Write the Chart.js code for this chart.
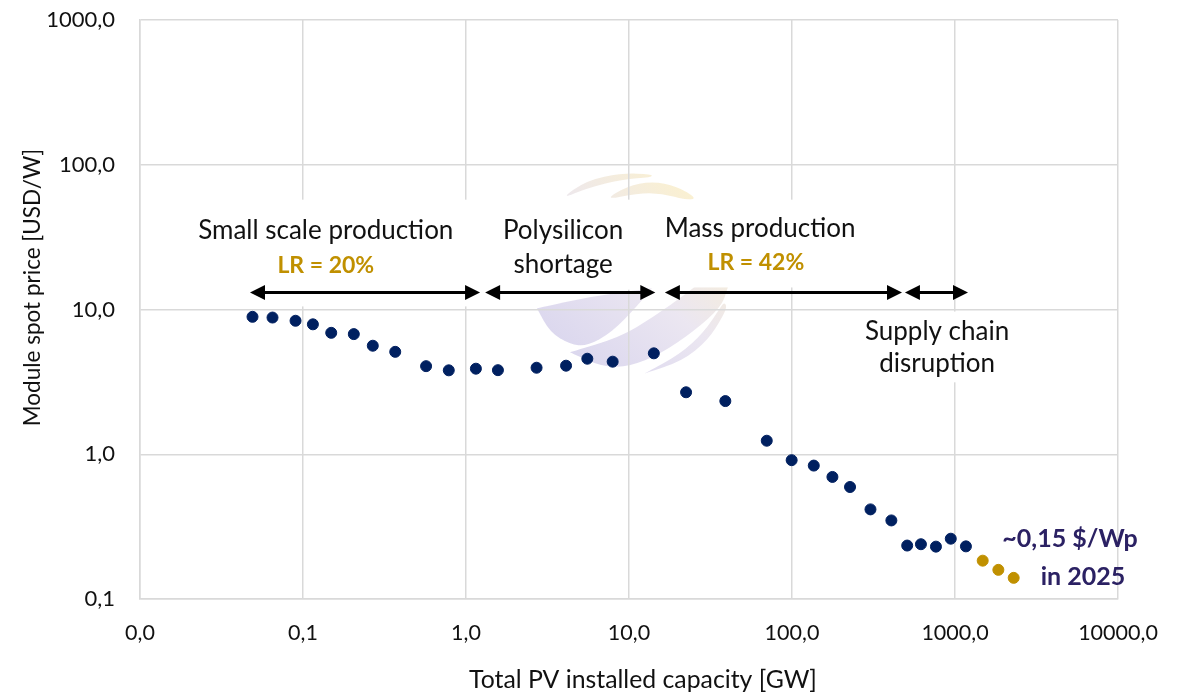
<!DOCTYPE html>
<html><head><meta charset="utf-8">
<script src="https://cdn.jsdelivr.net/npm/chart.js@4/dist/chart.umd.min.js"></script>
<style>html,body{margin:0;padding:0;background:#fff}</style>
</head><body>
<canvas id="c" width="1188" height="698"></canvas>
<script>
// ---- data ----
const capacityGW = [0.049,0.065,0.090,0.115,0.149,0.205,0.268,0.368,0.569,0.784,1.15,1.57,2.71,4.11,5.55,7.94,14.2,22.4,39.0,70.0,99.5,136,177,227,303,407,509,618,764,942,1167];
const priceUSD   = [8.9,8.8,8.36,7.9,6.9,6.76,5.62,5.1,4.06,3.8,3.9,3.81,3.96,4.09,4.57,4.36,4.98,2.68,2.33,1.24,0.91,0.835,0.697,0.594,0.416,0.349,0.234,0.239,0.23,0.261,0.231];
const forecastCapacity = [1479,1845,2291];
const forecastPrice    = [0.184,0.159,0.140];
const xTicks = [0.01,0.1,1,10,100,1000,10000];
const yTicks = [0.1,1,10,100,1000];
const xTitle = 'Total PV installed capacity [GW]';
const yTitle = 'Module spot price [USD/W]';
// phase arrows [from, to] in GW, drawn at price level arrowLevel
const phaseArrows = [[0.0473,1.22],[1.31,14.5],[16.6,473],[493,1202]];
const arrowLevel = 13.1;
// annotation texts, anchored in data coordinates (GW, USD/W)
const noteTexts  = ['Small scale production','LR = 20%','Polysilicon','shortage','Mass production','LR = 42%','Supply chain','disruption','~0,15 $/Wp','in 2025'];
const noteX      = [0.138,0.138,3.94,3.94,63.7,60,776,776,5080,6100];
const noteY      = [35.1,20.1,35.1,20.4,36.2,21.1,7.05,4.25,0.259,0.142];
const noteKind   = ['n','g','n','n','n','g','n','n','b','b'];
// white text boxes [x1, x2, yTop, yBottom] in data coordinates
const noteBoxes  = [[0.0203,1.135,57.4,10.5],[1.22,12.5,57.4,13.7],[10.9,493,57.4,14.2],[244,2506,9.68,3.14]];

const FONT = 'Lato, "Open Sans", sans-serif';
const fmt = v => (v < 0.1 ? 0 : v).toFixed(1).replace('.', ',');

// faint background logo (decoration), local shape outlines around its centre
const logoShapes = [
  [[-95,34],[-95,34],[-40,22],[20,14],[20,14],[5,32],[-20,58],[-45,72],[-62,70],[-82,58]],
  [[-62,78],[-62,78],[-12,63],[21,43],[55,19],[85,-5],[100,-5],[96,14],[89,33],[62,57],[28,80],[-2,92],[-29,93]],
  [[13,99],[13,99],[48,80],[72,58],[88,34],[92,28],[95,32],[91,42],[76,66],[50,87]],
  [[-72,-75],[-45,-94],[-10,-101],[20,-100],[20,-97],[-10,-95],[-45,-86]],
  [[-28,-74],[-5,-88],[20,-93],[45,-88],[65,-76],[55,-74],[30,-81],[5,-81]]
];
const watermark = {
  id: 'watermark',
  beforeDraw(chart) {
    const {ctx, chartArea: a} = chart;
    const s = (a.bottom - a.top) / 579;
    const cx = a.left + (a.right - a.left) * 0.503, cy = a.top + (a.bottom - a.top) * 0.439;
    const P = p => [cx + p[0] * s, cy + p[1] * s];
    ctx.save();
    ctx.globalAlpha = 0.6;
    const g = ctx.createLinearGradient(...P([-80, 90]), ...P([80, -90]));
    g.addColorStop(0, 'rgb(190,184,226)'); g.addColorStop(0.5, 'rgb(222,214,232)'); g.addColorStop(1, 'rgb(252,234,168)');
    ctx.fillStyle = g;
    logoShapes.forEach(pts => {
      const n = pts.length, q = pts.map(P);
      const mid = (u, v) => [(u[0] + v[0]) / 2, (u[1] + v[1]) / 2];
      ctx.beginPath();
      const m0 = mid(q[n - 1], q[0]); ctx.moveTo(m0[0], m0[1]);
      for (let i = 0; i < n; i++) { const m = mid(q[i], q[(i + 1) % n]); ctx.quadraticCurveTo(q[i][0], q[i][1], m[0], m[1]); }
      ctx.closePath(); ctx.fill();
    });
    ctx.restore();
  }
};

const overlay = {
  id: 'overlay',
  beforeDatasetsDraw(chart) {
    const {ctx, scales:{x, y}} = chart;
    ctx.save();
    ctx.fillStyle = '#fff';
    noteBoxes.forEach(([x1, x2, t, b]) => {
      const px1 = x.getPixelForValue(x1), px2 = x.getPixelForValue(x2);
      const py1 = y.getPixelForValue(t), py2 = y.getPixelForValue(b);
      ctx.fillRect(px1, py1, px2 - px1, py2 - py1);
    });
    // arrows
    const ay = y.getPixelForValue(arrowLevel);
    ctx.strokeStyle = '#000'; ctx.fillStyle = '#000'; ctx.lineWidth = 3;
    phaseArrows.forEach(([a, b]) => {
      const x1 = x.getPixelForValue(a), x2 = x.getPixelForValue(b);
      const h = 15, w = 7.5;
      ctx.beginPath(); ctx.moveTo(x1 + h - 2, ay); ctx.lineTo(x2 - h + 2, ay); ctx.stroke();
      ctx.beginPath(); ctx.moveTo(x1, ay); ctx.lineTo(x1 + h, ay - w); ctx.lineTo(x1 + h, ay + w); ctx.closePath(); ctx.fill();
      ctx.beginPath(); ctx.moveTo(x2, ay); ctx.lineTo(x2 - h, ay - w); ctx.lineTo(x2 - h, ay + w); ctx.closePath(); ctx.fill();
    });
    // texts
    ctx.textAlign = 'center'; ctx.textBaseline = 'middle';
    noteTexts.forEach((t, i) => {
      const k = noteKind[i];
      if (k === 'n') { ctx.font = '26px ' + FONT; ctx.fillStyle = '#111'; }
      else if (k === 'g') { ctx.font = 'bold 23px ' + FONT; ctx.fillStyle = '#C09000'; }
      else { ctx.font = 'bold 25px ' + FONT; ctx.fillStyle = '#2B2163'; }
      ctx.fillText(t, x.getPixelForValue(noteX[i]), y.getPixelForValue(noteY[i]));
    });
    ctx.restore();
  },
  afterDraw(chart) {
    // axis titles (placed as in the reference, slightly off the plot centre)
    const {ctx, chartArea: a} = chart;
    ctx.save();
    ctx.fillStyle = '#111'; ctx.textAlign = 'center'; ctx.textBaseline = 'middle';
    ctx.font = '24.8px ' + FONT;
    ctx.fillText(xTitle, (a.left + a.right) / 2 + 14, a.bottom + 81);
    ctx.translate(33, (a.top + a.bottom) / 2 - 22);
    ctx.rotate(-Math.PI / 2);
    ctx.font = '22.5px ' + FONT;
    ctx.fillText(yTitle, 0, 0);
    ctx.restore();
  }
};

new Chart(document.getElementById('c'), {
  type: 'scatter',
  data: {
    datasets: [
      { data: capacityGW.map((v, i) => ({x: v, y: priceUSD[i]})), backgroundColor: '#002060', borderColor: '#002060', pointRadius: 5.5, pointHoverRadius: 5.5 },
      { data: forecastCapacity.map((v, i) => ({x: v, y: forecastPrice[i]})), backgroundColor: '#C09000', borderColor: '#C09000', pointRadius: 5.5, pointHoverRadius: 5.5 }
    ]
  },
  options: {
    responsive: false, animation: false,
    layout: { padding: { left: 0, right: 70, top: 20, bottom: 0 } },
    plugins: { legend: { display: false }, tooltip: { enabled: false } },
    scales: {
      x: {
        type: 'logarithmic', min: 0.01, max: 10000,
        afterBuildTicks: s => { s.ticks = xTicks.map(v => ({value: v})); },
        afterFit: s => { s.height = 99; s.paddingLeft = 0; s.paddingRight = 0; },
        grid: { color: '#d9d9d9', lineWidth: 1.5, drawTicks: false },
        border: { color: '#d9d9d9', width: 1.5 },
        ticks: { padding: 21, color: '#111', font: { family: FONT, size: 21.5 }, callback: v => fmt(v), autoSkip: false, maxRotation: 0 },
        title: { display: false }
      },
      y: {
        type: 'logarithmic', min: 0.1, max: 1000,
        afterBuildTicks: s => { s.ticks = yTicks.map(v => ({value: v})); },
        afterFit: s => { s.width = 140; s.paddingTop = 0; s.paddingBottom = 0; },
        grid: { color: '#d9d9d9', lineWidth: 1.5, drawTicks: false },
        border: { color: '#d9d9d9', width: 1.5 },
        ticks: { padding: 25, color: '#111', font: { family: FONT, size: 22 }, callback: v => fmt(v), autoSkip: false },
        title: { display: false }
      }
    }
  },
  plugins: [watermark, overlay]
});
</script>
</body></html>
